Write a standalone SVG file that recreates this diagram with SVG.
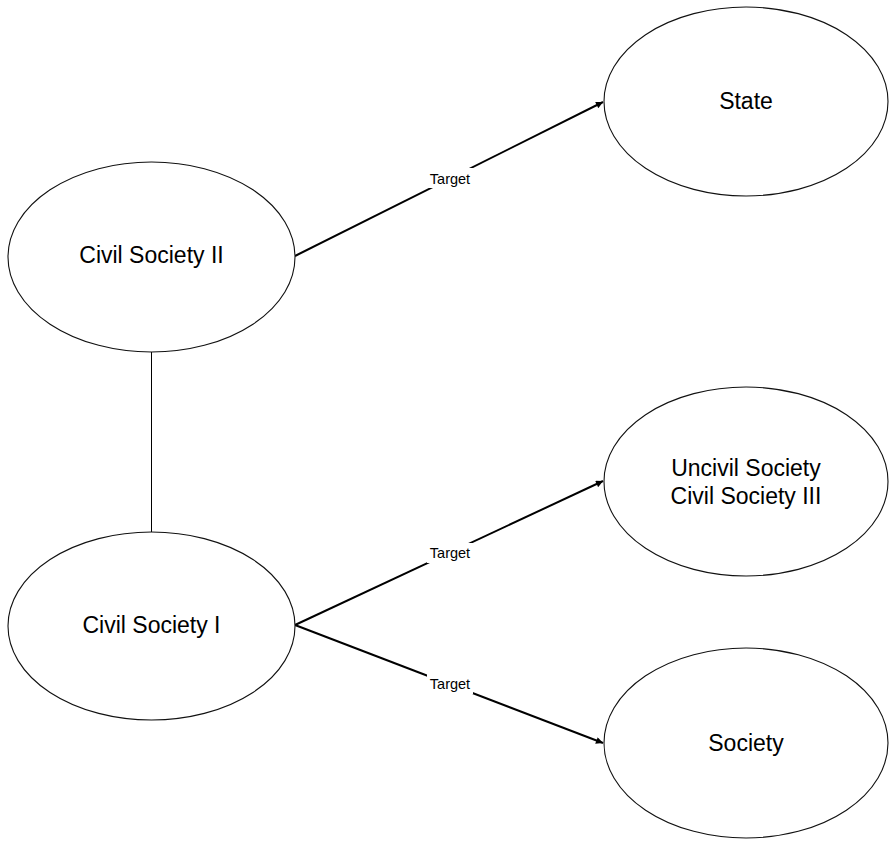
<svg xmlns="http://www.w3.org/2000/svg" width="890" height="841" viewBox="0 0 890 841">
<defs>
<style>
.node ellipse{fill:#fff;stroke:#111;stroke-width:1.1}
.node text{font-family:"Liberation Sans",Arial,sans-serif;font-size:23px;fill:#000;text-anchor:middle}
.edge{stroke:#000;stroke-width:2;fill:none}
.link{stroke:#000;stroke-width:1;fill:none}
.lbl{font-family:"Liberation Sans",Arial,sans-serif;font-size:14.5px;fill:#000;text-anchor:middle}
.lblbg{fill:#fff;stroke:none}
</style>
<marker id="arr" viewBox="0 0 10 10" refX="10" refY="5" markerWidth="11" markerHeight="7" markerUnits="userSpaceOnUse" orient="auto">
<path d="M0,0 L10,5 L0,10 z" fill="#000"/>
</marker>
</defs>
<rect width="890" height="841" fill="#fff"/>
<g id="connectors">
<line class="link" x1="151.5" y1="352" x2="151.5" y2="532"/>
<line class="edge" x1="295" y1="256" x2="603" y2="102" marker-end="url(#arr)"/>
<line class="edge" x1="295" y1="625" x2="603" y2="481" marker-end="url(#arr)"/>
<line class="edge" x1="295" y1="625" x2="603" y2="743" marker-end="url(#arr)"/>
<rect class="lblbg" x="427" y="168" width="46" height="20"/>
<text class="lbl" x="450" y="184">Target</text>
<rect class="lblbg" x="427" y="543" width="46" height="20"/>
<text class="lbl" x="450" y="558">Target</text>
<rect class="lblbg" x="427" y="674" width="46" height="20"/>
<text class="lbl" x="450" y="689">Target</text>
</g>
<g id="node-state" class="node">
<ellipse cx="746" cy="101.5" rx="142" ry="94.5"/>
<text x="746" y="109">State</text>
</g>
<g id="node-civil-society-ii" class="node">
<ellipse cx="151.5" cy="257" rx="143.5" ry="95"/>
<text x="151.5" y="263">Civil Society II</text>
</g>
<g id="node-civil-society-i" class="node">
<ellipse cx="151.5" cy="626" rx="143.5" ry="94"/>
<text x="151.5" y="633">Civil Society I</text>
</g>
<g id="node-uncivil-society" class="node">
<ellipse cx="746" cy="481.5" rx="142" ry="94.5"/>
<text x="746" y="476">Uncivil Society</text>
<text x="746" y="504">Civil Society III</text>
</g>
<g id="node-society" class="node">
<ellipse cx="746" cy="743" rx="142" ry="95"/>
<text x="746" y="751">Society</text>
</g>
</svg>
